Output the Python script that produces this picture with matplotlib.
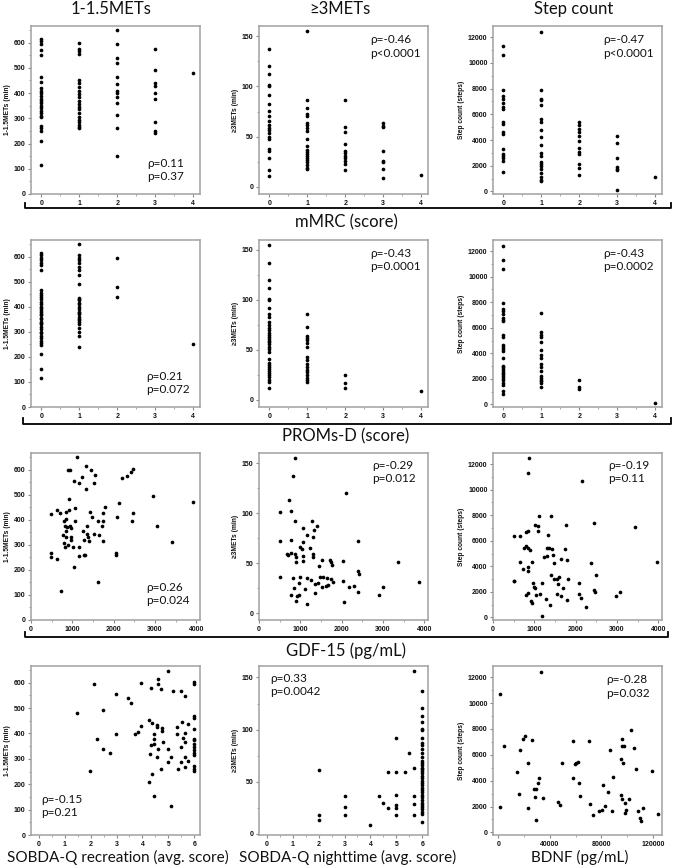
import numpy as np
import matplotlib
matplotlib.use('Agg')
import matplotlib.pyplot as plt
from matplotlib.lines import Line2D
from matplotlib.ticker import MultipleLocator

##################################################################
# DATA
##################################################################

# mMRC score -> values
mmrc_light = {
    0: [615, 605, 595, 570, 550, 465, 445, 420, 410, 400, 390, 375, 370, 360, 350, 340,
        330, 320, 310, 305, 270, 260, 250, 210, 115],
    1: [600, 575, 565, 555, 450, 440, 425, 410, 395, 385, 370, 355, 345, 335, 320, 305,
        295, 285, 275, 265, 260],
    2: [650, 595, 540, 520, 465, 435, 410, 400, 385, 360, 315, 260, 150],
    3: [575, 490, 440, 430, 400, 375, 285, 250, 240],
    4: [480],
}
mmrc_mvpa = {
    0: [137, 120, 112, 101, 100, 91, 82, 76, 71, 66, 62, 59, 57, 54, 50, 48, 38, 36, 29, 17, 11],
    1: [155, 86, 78, 73, 71, 64, 62, 59, 56, 48, 41, 37, 35, 33, 31, 29, 27, 25, 22, 19, 18],
    2: [86, 60, 55, 43, 36, 34, 31, 29, 26, 23, 17],
    3: [64, 61, 60, 36, 26, 25, 18, 9],
    4: [12],
}
mmrc_steps = {
    0: [11300, 10600, 7900, 7400, 7200, 6900, 6600, 6400, 5400, 5250, 4600, 4450, 3300,
        2900, 2750, 2600, 2400, 1550],
    1: [12400, 7900, 7200, 7100, 6700, 5600, 5400, 4750, 4200, 3600, 3000, 2750, 2300,
        2100, 2000, 1750, 1450, 1100, 900, 800],
    2: [5400, 5200, 4850, 4600, 4350, 3900, 3400, 3100, 2950, 2100, 1850, 1300],
    3: [4300, 3800, 2600, 1900, 1750, 1650, 150],
    4: [1150],
}

# PROMs-D score -> values
proms_light = {
    0: [615, 605, 595, 585, 575, 565, 548, 465, 455, 445, 440, 430, 420, 410, 400, 395,
        385, 380, 370, 365, 355, 350, 340, 335, 330, 320, 310, 300, 295, 285, 275, 265,
        255, 248, 210, 150, 115],
    1: [650, 605, 595, 585, 575, 560, 545, 525, 490, 435, 430, 425, 415, 410, 400, 390,
        380, 375, 370, 360, 350, 345, 340, 330, 315, 300, 285, 240],
    2: [595, 480, 437],
    4: [252],
}
proms_mvpa = {
    0: [155, 137, 120, 112, 101, 100, 92, 86, 83, 78, 75, 72, 70, 67, 65, 63, 61, 59, 58,
        56, 53, 51, 48, 41, 37, 35, 33, 31, 29, 27, 25, 23, 20, 18, 12],
    1: [86, 73, 64, 62, 60, 57, 53, 43, 40, 36, 33, 30, 28, 25, 22, 20, 18],
    2: [25, 17, 12],
    4: [9],
}
proms_steps = {
    0: [12400, 11300, 10600, 7950, 7500, 7300, 7100, 6800, 6600, 6500, 5450, 5300, 4650,
        4500, 4350, 4150, 3650, 3000, 2900, 2800, 2650, 2500, 2350, 2200, 2050, 1900,
        1700, 1500, 1050, 850],
    1: [7180, 5650, 5450, 5250, 4870, 4300, 3850, 3600, 3200, 2900, 2600, 2250, 2050,
        1900, 1800, 1650, 1400],
    2: [1950, 1350, 1200],
    4: [150],
}

# GDF-15 (pg/mL) vs 1-1.5METs
gdf_light_x = [1116, 893, 933, 1331, 1450, 1546, 1227, 1036, 1156, 1514, 1331, 2208, 2327,
               2423, 2471, 917, 2136, 2941, 3929, 478, 637, 709, 837, 917, 1068, 789, 837,
               877, 813, 837, 933, 972, 1076, 1426, 1466, 1610, 1745, 1785, 1753, 1721,
               2080, 2471, 2455, 3044, 3411, 773, 853, 972, 797, 885, 813, 972, 1355, 1387,
               1275, 1410, 1514, 1657, 1753, 1251, 1355, 1020, 1163, 1156, 1275, 1307, 494,
               494, 637, 1052, 2056, 2056, 1618, 717]
gdf_light_y = [651, 598, 598, 614, 600, 580, 569, 555, 545, 548, 521, 567, 574,
               591, 604, 481, 465, 494, 469, 421, 438, 428, 432, 438, 445, 394, 401,
               369, 374, 356, 374, 365, 396, 432, 409, 396, 428, 449, 396, 376,
               412, 425, 394, 374, 313, 340, 332, 332, 308, 301, 291, 319, 343, 332,
               319, 316, 341, 339, 316, 356, 374, 290, 290, 255, 259, 259, 266,
               250, 242, 211, 268, 260, 150, 116]

# GDF-15 vs >=3METs
gdf_mvpa_x = [866, 826, 721, 502, 769, 883, 1287, 1393, 1069, 1328, 1166, 1312, 502, 769,
              1069, 2405, 2105, 672, 713, 777, 874, 890, 992, 1036, 1239, 1296, 1296, 1053,
              1069, 907, 1514, 1441, 1717, 1733, 1757, 2040, 2405, 2413, 3376, 502, 826,
              988, 1166, 1255, 1474, 1555, 1636, 1733, 1782, 1352, 1417, 1620, 1514, 1676,
              956, 842, 1109, 1352, 2024, 2186, 2300, 2405, 2996, 2899, 3880, 785, 923,
              972, 907, 1166, 2057]
gdf_mvpa_y = [155, 137, 113, 101, 102, 92, 92, 87, 85, 83, 78, 76, 72, 73,
              71, 72, 120, 59, 58, 60, 59, 56, 66, 64, 65, 59, 56, 57,
              52, 51, 53, 47, 53, 51, 48, 52, 42, 39, 51, 36, 35,
              36, 35, 33, 36, 36, 35, 34, 31, 29, 30, 27, 26, 28,
              30, 25, 24, 20, 32, 26, 27, 21, 26, 18, 31, 18, 17,
              18, 12, 9, 11]

# GDF-15 vs step count
gdf_steps_x = [880, 856, 2160, 1104, 1400, 1016, 1080, 1760, 2456, 3440, 1096, 520, 664, 800,
               856, 1320, 744, 800, 856, 904, 1304, 1360, 1416, 1744, 1240, 1304, 1448,
               1480, 1640, 1784, 2360, 3968, 648, 936, 728, 856, 840, 1400, 1600, 2488,
               504, 520, 960, 984, 1016, 1184, 1480, 1544, 1576, 1688, 1816, 2080, 2456,
               2480, 808, 856, 920, 936, 1048, 1144, 1280, 1384, 1544, 1656, 1784, 2088,
               2120, 2240, 2968, 3080, 1176]
gdf_steps_y = [12460, 11300, 10650, 7950, 7950, 7220, 7170, 7250, 7430, 7100, 6730, 6400,
               6400, 6660, 6730, 6480, 5440, 5620, 5440, 5290, 5440, 5420, 5340, 5370,
               4720, 4770, 4850, 4260, 4590, 4460, 4260, 4330, 4330, 4330, 3820, 3920,
               3610, 3350, 3170, 3350, 2860, 2840, 2660, 2400, 2270, 2710, 2970, 2970,
               2610, 2270, 3040, 2660, 2140, 2010, 1750, 1880, 1320, 1110, 1750, 1830,
               1420, 980, 1830, 1680, 1370, 1830, 1500, 850, 1680, 1960, 130]

# SOBDA-Q recreation vs 1-1.5METs
rec_x = [4.97, 4.61, 4.61, 4.71, 3.96, 4.32, 2.13, 5.16, 5.47, 5.66,
         6, 6, 6, 6, 6, 6, 6, 6, 6, 6, 6, 6, 6, 6, 6,
         2.99, 3.45, 3.57, 2.48, 1.48, 2.99, 2.26, 2.48, 2.74, 1.96,
         3.73, 3.83, 3.96, 4.25, 4.37, 4.55, 4.55, 4.77, 4.77, 4.45, 4.45, 4.45, 4.80,
         4.32, 4.97, 4.61, 4.58, 5.12, 4.31, 4.97, 4.71, 4.37, 4.26, 4.45, 5.10, 5.35,
         5.35, 5.54, 5.77, 5.64, 5.57, 5.47, 5.66, 5.64, 5.66, 5.47, 5.38, 5.77]
rec_y = [647, 613, 595, 574, 600, 578, 595, 567, 569, 548,
         604, 595, 468, 463, 416, 380, 373, 358, 345, 335, 325, 315, 270, 262, 252,
         555, 541, 521, 492, 482, 398, 377, 339, 324, 253,
         398, 407, 429, 453, 440, 432, 427, 420, 411, 398, 377, 357, 365,
         355, 339, 339, 306, 306, 318, 289, 260, 240, 210, 154, 116, 397,
         424, 446, 437, 400, 381, 345, 368, 306, 269, 289, 260, 293]

# SOBDA-Q nighttime vs >=3METs
night_x = [2, 2, 2, 3, 3, 3, 4, 4.33, 4.5, 4.67, 4.67, 5, 5, 5, 5, 5, 5, 5.33, 5.5,
           5.67, 5.67, 5.67, 5.67, 5.67] + [6] * 37
night_y = [61, 18, 13, 36, 26, 18, 9, 36, 30, 59, 25, 92, 59, 37, 28, 25, 18, 59, 78,
           156, 63, 36, 29, 18,
           137, 121, 113, 107, 101, 100, 92, 87, 85, 81, 78, 74, 70, 68, 66, 63, 62, 60,
           58, 56, 54, 51, 49, 47, 44, 42, 40, 37, 35, 33, 30, 28, 26, 21, 19, 11, 24]

# BDNF (pg/mL) vs step count
bdnf_x = [33100, 1040, 1040, 4430, 14090, 15650, 16700, 19050, 20870, 22960, 23220, 26090,
          27390, 29220, 28180, 29220, 31300, 31050, 34960, 46180, 48000, 49050, 57920,
          57920, 59220, 60530, 61830, 62610, 63140, 70440, 71480, 73570, 78270, 80090,
          80880, 82710, 85320, 86620, 87920, 88760, 95750, 95750, 97580, 94970, 97060,
          95230, 95750, 98360, 98880, 98360, 101600, 103000, 104900, 106700, 108000,
          109600, 110900, 112200, 119200, 123700]
bdnf_y = [12440, 10690, 1970, 6720, 4690, 2950, 6410, 7230, 7440, 5330, 1850, 7180,
          3330, 3330, 2740, 950, 4230, 3850, 2690, 2380, 2100, 5380, 7100,
          4230, 5260, 5380, 5440, 3790, 2820, 7100, 2230, 1330, 1670, 1720,
          3640, 2050, 3150, 6410, 1670, 4310, 7230, 6670, 6720, 5640, 5380,
          2870, 2620, 2310, 1740, 1540, 2620, 7950, 6540, 4870, 1670,
          1100, 850, 1920, 4740, 1410]

col_titles = ['1-1.5METs', '≥3METs', 'Step count']
y_labels = ['1-1.5METs (min)', '≥3METs (min)', 'Step count (steps)']
row_labels = ['mMRC (score)', 'PROMs-D (score)', 'GDF-15 (pg/mL)']
bottom_labels = ['SOBDA-Q recreation (avg. score)', 'SOBDA-Q nighttime (avg. score)',
                 'BDNF (pg/mL)']
stats = [['ρ=0.11\np=0.37', 'ρ=-0.46\np<0.0001', 'ρ=-0.47\np<0.0001'],
         ['ρ=0.21\np=0.072', 'ρ=-0.43\np=0.0001', 'ρ=-0.43\np=0.0002'],
         ['ρ=0.26\np=0.024', 'ρ=-0.29\np=0.012', 'ρ=-0.19\np=0.11'],
         ['ρ=-0.15\np=0.21', 'ρ=0.33\np=0.0042', 'ρ=-0.28\np=0.032']]


def expand(groups):
    xs, ys = [], []
    for k, v in groups.items():
        xs += [k] * len(v)
        ys += v
    return xs, ys


##################################################################
# FIGURE
##################################################################
W, H = 673, 868
fig = plt.figure(figsize=(W / 100, H / 100), dpi=100)
TXT = ['Lato', 'Open Sans', 'DejaVu Sans']
TICKF = 'Liberation Sans'

col_left = [31, 259, 493]
col_w = 169
row_top = [26, 240, 453, 666]
row_h = [168, 167, 167, 169]

ylims = [(0, 666), (-7, 160), (-200, 12870)]
ymajor = [100, 50, 2000]
yticks = [np.arange(0, 601, 100), np.arange(0, 151, 50), np.arange(0, 12001, 2000)]

panels = [
    [expand(mmrc_light), expand(mmrc_mvpa), expand(mmrc_steps)],
    [expand(proms_light), expand(proms_mvpa), expand(proms_steps)],
    [(gdf_light_x, gdf_light_y), (gdf_mvpa_x, gdf_mvpa_y), (gdf_steps_x, gdf_steps_y)],
    [(rec_x, rec_y), (night_x, night_y), (bdnf_x, bdnf_y)],
]

# x-axis settings per row/col: (xlim, ticks, minor step)
score_x = ((-0.27, 4.18), np.arange(0, 5), 0.5)
gdf_xa = ((0, 4090), np.arange(0, 4001, 1000), 500)
sob_x = ((-0.3, 6.22), np.arange(0, 7), 0.5)
bdnf_xa = ((-4200, 127000), np.arange(0, 120001, 40000), 20000)
xaxes = [[score_x] * 3, [score_x] * 3, [gdf_xa] * 3, [sob_x, sob_x, bdnf_xa]]

# annotation anchor (axes fraction): x, y, vertical alignment
ann = [[(0.69, 0.215, 'top'), (0.657, 0.95, 'top'), (0.65, 0.95, 'top')],
       [(0.68, 0.215, 'top'), (0.657, 0.955, 'top'), (0.65, 0.955, 'top')],
       [(0.68, 0.23, 'top'), (0.67, 0.96, 'top'), (0.68, 0.96, 'top')],
       [(0.06, 0.245, 'top'), (0.065, 0.96, 'top'), (0.67, 0.95, 'top')]]

for r in range(4):
    for c in range(3):
        ax = fig.add_axes([col_left[c] / W, 1 - (row_top[r] + row_h[r]) / H,
                           col_w / W, row_h[r] / H])
        xs, ys = panels[r][c]
        ax.scatter(xs, ys, s=7, color='black', linewidths=0, zorder=3)

        yl = ylims[c]
        if r == 3 and c == 1:
            yl = (-1, 161)
        ax.set_ylim(yl)
        ax.set_yticks(yticks[c])
        ax.set_yticklabels([str(v) for v in yticks[c]], fontsize=5, fontweight='bold',
                           family=TICKF, color='#111111')
        ax.yaxis.set_minor_locator(MultipleLocator(ymajor[c] / 2))

        xl, xt, xm = xaxes[r][c]
        ax.set_xlim(xl)
        ax.set_xticks(xt)
        ax.set_xticklabels([str(v) for v in xt], fontsize=5, fontweight='bold',
                           family=TICKF, color='#111111')
        ax.xaxis.set_minor_locator(MultipleLocator(xm))

        ax.tick_params(which='major', direction='out', length=2.5, width=0.8,
                       color='#888888', pad=1.5)
        ax.tick_params(which='minor', direction='out', length=1.5, width=0.6,
                       color='#999999')
        for sp in ax.spines.values():
            sp.set_color('#a0a0a0')
            sp.set_linewidth(1.1)

        ax.set_ylabel(y_labels[c], fontsize=4.8, fontweight='bold', family=TICKF,
                      labelpad=2, color='#111111')

        ax_x, ax_y, va = ann[r][c]
        ax.text(ax_x, ax_y, stats[r][c], transform=ax.transAxes, ha='left', va=va,
                fontsize=8.5, family=TXT, linespacing=1.25, color='#111111')

# column titles
for c, t in enumerate(col_titles):
    fig.text((col_left[c] + col_w / 2 - 4) / W, 1 - 9 / H, t, ha='center', va='center',
             fontsize=12, family=TXT, color='#111111')

# brackets with row labels
brackets = [(208, 25, 671, 5), (424, 23, 671, 6), (637, 25, 668, 5)]
label_y = [222, 436, 651]
for (yb, x0, x1, tk), lab, ly in zip(brackets, row_labels, label_y):
    fig.add_artist(Line2D([x0 / W, x0 / W, x1 / W, x1 / W],
                          [1 - (yb - tk) / H, 1 - yb / H, 1 - yb / H, 1 - (yb - tk) / H],
                          color='black', linewidth=1.3))
    fig.text(346 / W, 1 - ly / H, lab, ha='center', va='center', fontsize=12,
             family=TXT, color='#111111')

# bottom row x labels
bottom_x = [118, 348, 580]
for c, lab in enumerate(bottom_labels):
    fig.text(bottom_x[c] / W, 1 - 857 / H, lab, ha='center',
             va='center', fontsize=11, family=TXT, color='#111111')

fig.savefig('out.png', dpi=100)
